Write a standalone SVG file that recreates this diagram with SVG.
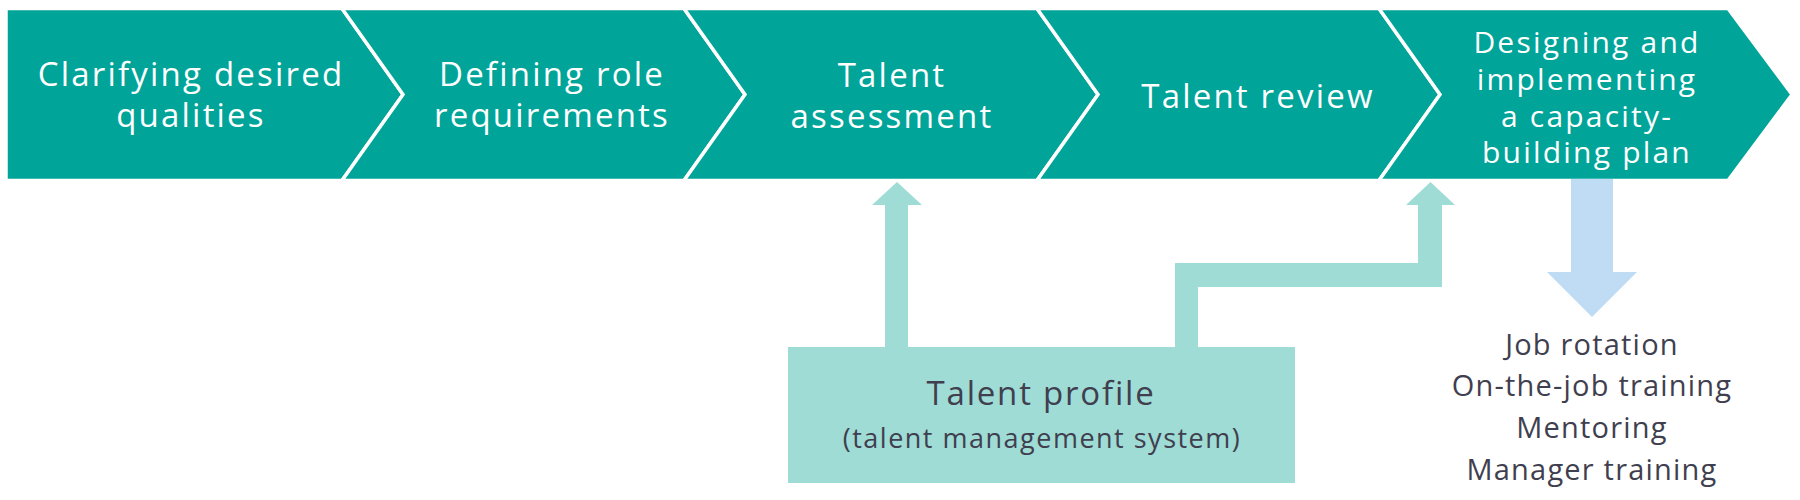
<svg xmlns="http://www.w3.org/2000/svg" width="1800" height="500" viewBox="0 0 1800 500">
<defs>
<style>
.step{fill:#00a499;stroke:#ffffff;stroke-width:3.5;stroke-linejoin:miter}
.st{font-family:"Open Sans","Liberation Sans",sans-serif;font-size:33px;fill:#ffffff;text-anchor:middle;letter-spacing:2.2px}
.st5{font-family:"Open Sans","Liberation Sans",sans-serif;font-size:30px;fill:#ffffff;text-anchor:middle;letter-spacing:2.2px}
.conn{fill:#9fdcd5}
.blue{fill:#bfdcf4}
.box{fill:#9fdcd5}
.dk{font-family:"Open Sans","Liberation Sans",sans-serif;fill:#3f3f4f;text-anchor:middle}
</style>
</defs>
<rect width="1800" height="500" fill="#ffffff"/>
<g id="step1">
<polygon class="step" points="6,8.5 342,8.5 403,94.5 342,180.5 6,180.5"/>
<text class="st" x="191" y="86">Clarifying desired</text>
<text class="st" x="191" y="127">qualities</text>
</g>
<g id="step2">
<polygon class="step" points="342,8.5 684,8.5 745,94.5 684,180.5 342,180.5 403,94.5"/>
<text class="st" x="552" y="86">Defining role</text>
<text class="st" x="552" y="127">requirements</text>
</g>
<g id="step3">
<polygon class="step" points="684,8.5 1037,8.5 1098,94.5 1037,180.5 684,180.5 745,94.5"/>
<text class="st" x="892" y="87">Talent</text>
<text class="st" x="892" y="128">assessment</text>
</g>
<g id="step4">
<polygon class="step" points="1037,8.5 1379,8.5 1440,94.5 1379,180.5 1037,180.5 1098,94.5"/>
<text class="st" x="1258" y="108">Talent review</text>
</g>
<g id="step5">
<polygon class="step" points="1379,8.5 1728,8.5 1792,94.5 1728,180.5 1379,180.5 1440,94.5"/>
<text class="st5" x="1587" y="53">Designing and</text>
<text class="st5" x="1587" y="90">implementing</text>
<text class="st5" x="1587" y="127">a capacity-</text>
<text class="st5" x="1587" y="163">building plan</text>
</g>
<g id="connectors">
<polygon class="conn" points="885,348 885,205 872,205 897,182 922,205 908,205 908,348"/>
<polygon class="conn" points="1175,348 1175,263 1418,263 1418,205 1406,205 1430.5,182 1455,205 1442,205 1442,287 1198,287 1198,348"/>
<polygon class="blue" points="1571,179 1571,272 1547,272 1592,317 1637,272 1613,272 1613,179"/>
</g>
<g id="profile">
<rect class="box" x="788" y="347" width="507" height="136"/>
<text class="dk" x="1041" y="405" font-size="33" letter-spacing="1.8">Talent profile</text>
<text class="dk" x="1042" y="448" font-size="27" letter-spacing="1.5">(talent management system)</text>
</g>
<g id="outcomes">
<text class="dk" x="1592" y="355" font-size="29" letter-spacing="1.2">Job rotation</text>
<text class="dk" x="1592" y="396" font-size="29" letter-spacing="1.2">On-the-job training</text>
<text class="dk" x="1592" y="438" font-size="29" letter-spacing="1.2">Mentoring</text>
<text class="dk" x="1592" y="480" font-size="29" letter-spacing="1.2">Manager training</text>
</g>
</svg>
